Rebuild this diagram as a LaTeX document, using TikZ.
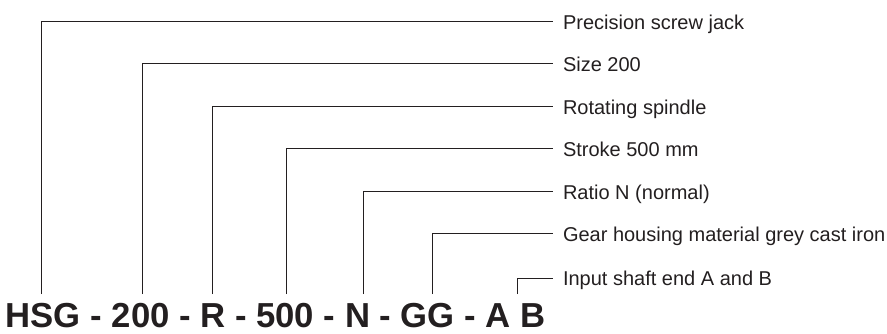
\documentclass[tikz,border=0pt]{standalone}
\usepackage{fontspec}
\setmainfont{Liberation Sans}
\definecolor{inkline}{HTML}{231F20}

\begin{document}
\begin{tikzpicture}[x=1pt,y=-1pt,
 lab/.style={anchor=west,inner xsep=0pt,inner ysep=0pt,outer xsep=10pt,
  text height=14.3pt,text depth=0pt,font=\fontsize{20}{24}\selectfont,text=inkline},
 lead/.style={draw=inkline,line width=1pt}]
\useasboundingbox (0,0) rectangle (887,334);
% type code
\node[anchor=base west,inner sep=0pt,text=inkline,
 font=\fontsize{34.7}{40}\selectfont\bfseries] (code) at (5.5,327)
 {HSG - 200 - R - 500 - N - GG - A B};
% ends of the leaders above the code
\coordinate (hsg) at (41,294);
\coordinate (size) at (142,294);
\coordinate (spin) at (212,294);
\coordinate (strk) at (286,294);
\coordinate (ratio) at (363,294);
\coordinate (house) at (432,294);
\coordinate (shaft) at (517,294);
% explanations
\node[lab] (l-hsg) at (553,22) {Precision screw jack};
\node[lab] (l-size) at (553,64) {Size 200};
\node[lab] (l-spin) at (553,107) {Rotating spindle};
\node[lab] (l-strk) at (553,149) {Stroke 500 mm};
\node[lab] (l-ratio) at (553,192) {Ratio N (normal)};
\node[lab] (l-house) at (553,234) {Gear housing material grey cast iron};
\node[lab] (l-shaft) at (553,278) {Input shaft end A and B};
\draw[lead] (hsg) |- (l-hsg.west);
\draw[lead] (size) |- (l-size.west);
\draw[lead] (spin) |- (l-spin.west);
\draw[lead] (strk) |- (l-strk.west);
\draw[lead] (ratio) |- (l-ratio.west);
\draw[lead] (house) |- (l-house.west);
\draw[lead] (shaft) |- (l-shaft.west);
\end{tikzpicture}
\end{document}
